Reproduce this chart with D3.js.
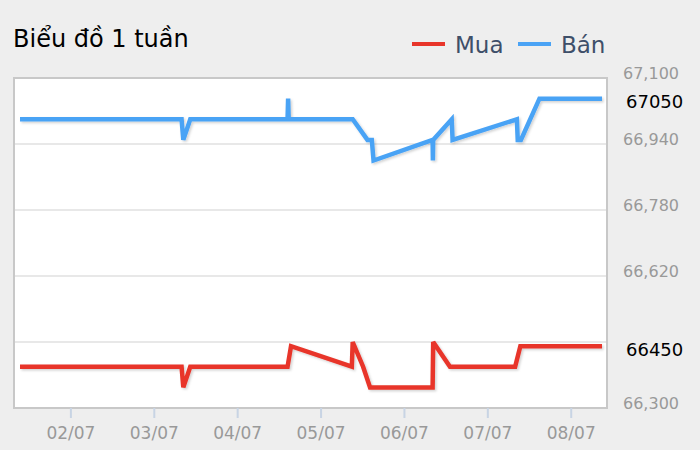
<!DOCTYPE html>
<html>
<head>
<meta charset="utf-8">
<script src="https://cdn.jsdelivr.net/npm/d3@7"></script>
<style>
  html, body { margin: 0; padding: 0; background: #eeeeee; }
  svg { display: block; font-family: "DejaVu Sans", Verdana, sans-serif; }
</style>
</head>
<body>
<svg id="chart" width="700" height="450"></svg>
<script>
// ---- data ----
const title = "Biểu đồ 1 tuần";
const seriesNames = ["Mua", "Bán"];
const buyTimes = ["01/07 09:30","03/07 08:00","03/07 08:30","03/07 10:30","04/07 14:30","04/07 15:30",
  "05/07 09:00","05/07 09:15","05/07 12:15","05/07 14:15","06/07 08:15","06/07 08:25","06/07 13:15",
  "07/07 08:00","07/07 09:30","08/07 09:00"];
const buyValues = [66400,66400,66350,66400,66400,66450,66400,66460,66400,66350,66350,66460,66400,66400,66450,66450];
const sellTimes = ["01/07 09:30","03/07 08:00","03/07 08:30","03/07 10:30","04/07 14:30","04/07 14:40",
  "04/07 14:50","05/07 09:15","05/07 13:30","05/07 14:45","05/07 15:15","06/07 08:15","06/07 08:20",
  "06/07 08:25","06/07 13:45","06/07 14:00","07/07 08:30","07/07 08:45","07/07 09:40","07/07 15:00","08/07 09:00"];
const sellValues = [67000,67000,66950,67000,67000,67050,67000,67000,66950,66950,66900,66950,66900,66950,
  67000,66950,67000,66950,66950,67050,67050];
const yTicks = [66300, 66460, 66620, 66780, 66940, 67100];
const yTickLabelsShown = ["66,300", "", "66,620", "66,780", "66,940", "67,100"];
const xTickDays = ["02/07","03/07","04/07","05/07","06/07","07/07","08/07"];
const colors = ["#e8352a", "#4aa3f5"];

// ---- layout ----
const svg = d3.select("#chart");
const plot = {left: 14, right: 607, top: 78, bottom: 408};
const parse = d3.timeParse("%d/%m %H:%M");
const buy = buyTimes.map((t, i) => ({t: parse(t), v: buyValues[i]}));
const sell = sellTimes.map((t, i) => ({t: parse(t), v: sellValues[i]}));

const x = d3.scaleTime()
  .domain([parse(buyTimes[0]), parse(buyTimes[buyTimes.length - 1])])
  .range([20, 602]);
const y = d3.scaleLinear().domain([66300, 67100]).range([plot.bottom, plot.top]);

const defs = svg.append("defs");
const f = defs.append("filter").attr("id", "sh").attr("x", "-5%").attr("y", "-20%").attr("width", "110%").attr("height", "140%");
f.append("feDropShadow").attr("dx", 1.5).attr("dy", 1.5).attr("stdDeviation", 1)
  .attr("flood-color", "#000").attr("flood-opacity", 0.18);

// plot background
svg.append("rect").attr("x", plot.left).attr("y", plot.top)
  .attr("width", plot.right - plot.left).attr("height", plot.bottom - plot.top)
  .attr("fill", "#ffffff");

// grid lines
svg.append("g").selectAll("line").data(yTicks).join("line")
  .attr("x1", plot.left).attr("x2", plot.right)
  .attr("y1", d => y(d)).attr("y2", d => y(d))
  .attr("stroke", "#e0e0e0").attr("stroke-width", 1.5);

// frame
svg.append("rect").attr("x", plot.left).attr("y", plot.top)
  .attr("width", plot.right - plot.left).attr("height", plot.bottom - plot.top)
  .attr("fill", "none").attr("stroke", "#c8c8c8").attr("stroke-width", 2);

// y axis labels (right)
const yAxis = d3.axisRight(y).tickValues(yTicks).tickSize(0)
  .tickFormat((d, i) => yTickLabelsShown[i]);
const ya = svg.append("g").attr("transform", `translate(${plot.right + 16},0)`).call(yAxis);
ya.select(".domain").remove();
ya.selectAll("text").attr("x", 0).attr("dy", 0).attr("fill", "#999999")
  .attr("font-size", 16).attr("font-family", "DejaVu Sans, sans-serif").attr("text-anchor", "start");

// x axis
const dayDates = xTickDays.map(d => parse(d + " 00:00"));
const xAxis = d3.axisBottom(x).tickValues(dayDates).tickFormat(d3.timeFormat("%d/%m")).tickSize(10).tickPadding(9);
const xa = svg.append("g").attr("transform", `translate(0,${plot.bottom})`).call(xAxis);
xa.select(".domain").attr("stroke", "#c8c8c8").attr("stroke-width", 2)
  .attr("d", `M${plot.left},0H${plot.right}`);
xa.selectAll(".tick line").attr("stroke", "#c8d4e4").attr("stroke-width", 2);
xa.selectAll("text").attr("fill", "#999999").attr("font-size", 17)
  .attr("font-family", "DejaVu Sans, sans-serif");

// lines
const line = d3.line().x(d => x(d.t)).y(d => y(d.v));
[buy, sell].forEach((s, i) => {
  svg.append("path").datum(s).attr("d", line)
    .attr("fill", "none").attr("stroke", colors[i]).attr("stroke-width", 4.5)
    .attr("stroke-linejoin", "miter").attr("stroke-miterlimit", 3)
    .attr("filter", "url(#sh)");
});

// last value labels
[buy, sell].forEach(s => {
  const last = s[s.length - 1];
  svg.append("text").attr("x", 626).attr("y", y(last.v) + 9.5)
    .attr("font-size", 18).attr("fill", "#000").text(String(last.v));
});

// title
svg.append("text").attr("x", 13).attr("y", 47).attr("font-size", 24).attr("fill", "#000").text(title);

// legend
const legendX = [412, 518];
seriesNames.forEach((n, i) => {
  svg.append("line").attr("x1", legendX[i]).attr("x2", legendX[i] + 33)
    .attr("y1", 44).attr("y2", 44).attr("stroke", colors[i]).attr("stroke-width", 4);
  svg.append("text").attr("x", legendX[i] + 43).attr("y", 53).attr("font-size", 23)
    .attr("fill", "#3e4f69").text(n);
});
</script>
</body>
</html>
